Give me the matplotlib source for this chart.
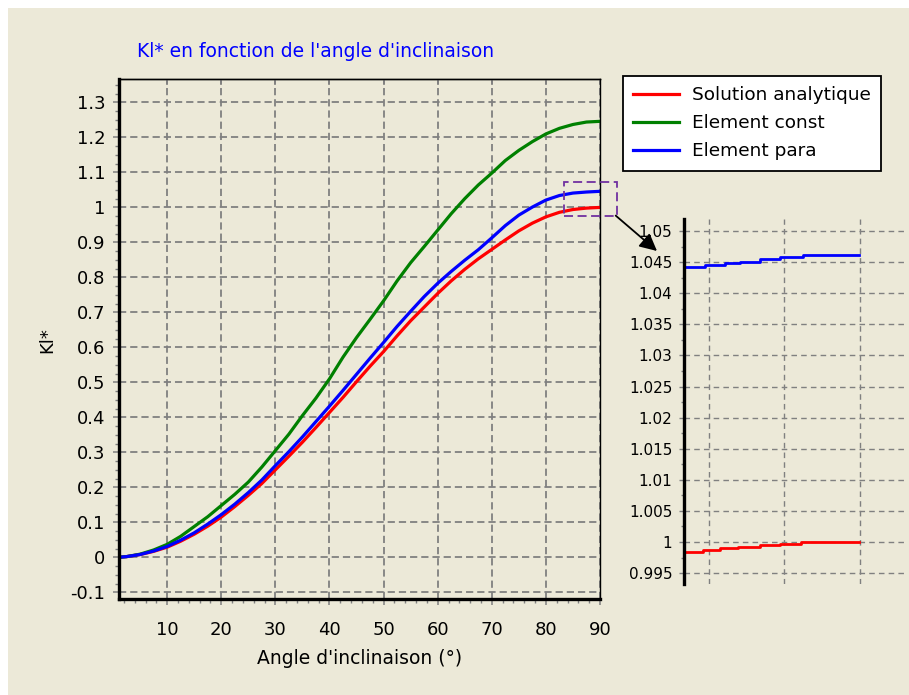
import numpy as np
import matplotlib
matplotlib.use("Agg")
import matplotlib.pyplot as plt
from matplotlib.patches import Rectangle, FancyArrowPatch
from matplotlib.ticker import MultipleLocator, FuncFormatter

plt.rcParams['font.family'] = 'DejaVu Sans'

# --- data ---
angle = [1, 2.5, 5, 7.5, 10, 12.5, 15, 17.5, 20, 22.5, 25, 27.5, 30, 32.5, 35,
         37.5, 40, 42.5, 45, 47.5, 50, 52.5, 55, 57.5, 60, 62.5, 65, 67.5, 70,
         72.5, 75, 77.5, 80, 82.5, 85, 87.5, 90]
kl_analytique = [0.000, 0.002, 0.008, 0.017, 0.029, 0.046, 0.066, 0.089, 0.115,
                 0.145, 0.177, 0.211, 0.250, 0.289, 0.329, 0.371, 0.414, 0.457,
                 0.502, 0.546, 0.588, 0.633, 0.676, 0.715, 0.754, 0.790, 0.823,
                 0.853, 0.880, 0.907, 0.933, 0.955, 0.973, 0.986, 0.994, 0.998,
                 1.000]
kl_const = [0.000, 0.002, 0.009, 0.021, 0.037, 0.060, 0.088, 0.116, 0.148, 0.180,
            0.215, 0.258, 0.305, 0.352, 0.405, 0.455, 0.510, 0.572, 0.628, 0.680,
            0.733, 0.790, 0.842, 0.888, 0.935, 0.982, 1.025, 1.064, 1.098, 1.134,
            1.163, 1.188, 1.210, 1.226, 1.237, 1.244, 1.246]
kl_para = [0.000, 0.002, 0.008, 0.018, 0.031, 0.049, 0.070, 0.095, 0.122, 0.152,
           0.185, 0.221, 0.262, 0.302, 0.344, 0.388, 0.432, 0.477, 0.523, 0.569,
           0.614, 0.660, 0.703, 0.745, 0.783, 0.817, 0.849, 0.879, 0.913, 0.948,
           0.978, 1.001, 1.021, 1.034, 1.041, 1.044, 1.046]

# zoomed part near 90 degrees
zoom_angle_red = [87.67, 87.93, 88.15, 88.39, 88.68, 88.94, 89.22, 89.98]
zoom_red = [0.99842, 0.99874, 0.99900, 0.99926, 0.99947, 0.99968, 1.00000, 1.00000]
zoom_angle_blue = [87.67, 87.95, 88.22, 88.42, 88.68, 88.94, 89.24, 89.98]
zoom_blue = [1.0443, 1.0446, 1.0448, 1.0451, 1.0455, 1.0458, 1.0461, 1.0461]

x_ticks = [10, 20, 30, 40, 50, 60, 70, 80, 90]
y_ticks = [-0.1, 0, 0.1, 0.2, 0.3, 0.4, 0.5, 0.6, 0.7, 0.8, 0.9, 1.0, 1.1, 1.2, 1.3]
zoom_x_ticks = [88, 89, 90]
zoom_y_ticks = [0.995, 1.0, 1.005, 1.01, 1.015, 1.02, 1.025, 1.03, 1.035, 1.04,
                1.045, 1.05]

beige = '#ECE9D8'
grey = '#808080'
W, H = 909, 695

fig = plt.figure(figsize=(W / 100, H / 100), dpi=100)
fig.patch.set_facecolor('white')
fig.patches.append(Rectangle((8 / W, 0), 1, 1 - 7.5 / H, transform=fig.transFigure,
                             facecolor=beige, edgecolor='none', zorder=-5))

fmt = FuncFormatter(lambda v, p: '{:g}'.format(round(v, 4)))

# --- main chart ---
ax = fig.add_axes([119 / W, 1 - 599.3 / H, 481 / W, 520.3 / H])
ax.set_facecolor(beige)
ax.plot(angle, kl_analytique, color='#FF0000', lw=2.3, label='Solution analytique')
ax.plot(angle, kl_const, color='#008000', lw=2.3, label='Element const')
ax.plot(angle, kl_para, color='#0000FF', lw=2.3, label='Element para')
ax.set_xlim(1.1, 90)
ax.set_ylim(-0.12, 1.367)
ax.set_xticks(x_ticks)
ax.set_yticks(y_ticks)
ax.yaxis.set_major_formatter(fmt)
ax.xaxis.set_minor_locator(MultipleLocator(2))
ax.yaxis.set_minor_locator(MultipleLocator(0.025))
ax.grid(True, which='major', color=grey, linestyle=(0, (4, 2.2)), linewidth=1.3)
ax.tick_params(which='major', direction='out', length=4.3, width=1.1, color=grey,
               labelsize=13)
ax.tick_params(which='minor', direction='out', length=2.8, width=1.0, color=grey)
ax.tick_params(axis='x', which='major', pad=11)
ax.tick_params(axis='y', which='major', pad=5.5)
for s in ['left', 'bottom']:
    ax.spines[s].set_linewidth(2.4)
for s in ['top', 'right']:
    ax.spines[s].set_linewidth(1.0)

top = ax.secondary_xaxis('top')
top.set_xticks(x_ticks)
top.tick_params(direction='in', length=4, width=1.1, color=grey, labeltop=False)
top.spines['top'].set_linewidth(1.0)

fig.text(316 / W, 1 - 56.7 / H, "Kl* en fonction de l'angle d'inclinaison",
         color='#0000FF', fontsize=13.5, ha='center', va='baseline')
fig.text(47.4 / W, 1 - 340 / H, 'Kl*', rotation=90, fontsize=13,
         ha='center', va='center')
fig.text(359.5 / W, 1 - 658 / H, "Angle d'inclinaison (°)", fontsize=13.5,
         ha='center', va='center')

leg = ax.legend(loc='upper left', bbox_to_anchor=(623 / W, 1 - 76 / H),
                bbox_transform=fig.transFigure, borderaxespad=0, fancybox=False,
                edgecolor='black', facecolor='white', framealpha=1, fontsize=13.3,
                handlelength=2.5, handletextpad=0.7, borderpad=0.55,
                labelspacing=0.55)
leg.get_frame().set_linewidth(1.3)

# zoom box and arrow
ax.add_patch(Rectangle((83.3, 0.976), 9.8, 0.097, fill=False, edgecolor='#7030A0',
                       linestyle=(0, (5, 2.5)), linewidth=1.3, clip_on=False,
                       zorder=5))
fig.add_artist(FancyArrowPatch(posA=(615.7 / W, 1 - 215.6 / H),
                               posB=(657 / W, 1 - 251 / H),
                               transform=fig.transFigure, arrowstyle='-|>',
                               mutation_scale=26, color='black', lw=1.3,
                               shrinkA=0, shrinkB=0))

# --- inset ---
ax2 = fig.add_axes([683.5 / W, 1 - 584 / H, 222.5 / W, 365 / H])
ax2.set_facecolor('none')
ax2.plot(zoom_angle_red, zoom_red, drawstyle='steps-post', color='#FF0000', lw=2)
ax2.plot(zoom_angle_blue, zoom_blue, drawstyle='steps-post', color='#0000FF', lw=2)
ax2.set_xlim(87.67, 90.6)
ax2.set_ylim(0.99325, 1.05195)
ax2.set_xticks(zoom_x_ticks)
ax2.set_yticks(zoom_y_ticks)
ax2.yaxis.set_major_formatter(fmt)
ax2.yaxis.set_minor_locator(MultipleLocator(0.0025))
ax2.tick_params(axis='x', length=0, labelbottom=False)
ax2.tick_params(axis='y', which='major', length=3.5, width=1.0, color=grey,
                labelsize=11, pad=4.5)
ax2.tick_params(axis='y', which='minor', length=2.2, width=1.0, color=grey)
ax2.grid(True, which='major', color=grey, linestyle=(0, (4, 3)), linewidth=1.0)
for s in ['top', 'right', 'bottom']:
    ax2.spines[s].set_visible(False)
ax2.spines['left'].set_linewidth(2.4)

fig.savefig('out.png', dpi=100, facecolor=fig.get_facecolor())
